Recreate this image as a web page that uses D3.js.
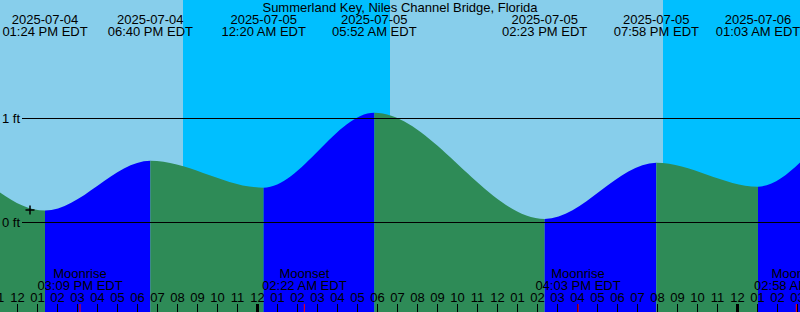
<!DOCTYPE html>
<html>
<head>
<meta charset="utf-8">
<script src="https://cdn.jsdelivr.net/npm/d3@7"></script>
<style>
  body { margin: 0; background: #fff; }
  svg { display: block; font-family: "Liberation Sans", Arial, sans-serif; }
</style>
</head>
<body>
<div id="chart"></div>
<script>
const canvas = { w: 800, h: 312 };

const title = "Summerland Key, Niles Channel Bridge, Florida";

// tide extremes (the first two and last two lie outside the view)
const tideTimes = ["2025-07-03 23:50", "2025-07-04 05:20", "2025-07-04 13:24", "2025-07-04 18:40",
  "2025-07-05 00:20", "2025-07-05 05:52", "2025-07-05 14:23", "2025-07-05 19:58",
  "2025-07-06 01:03", "2025-07-06 06:35", "2025-07-06 14:50"];
const tideLevels = [0.35, 1.03, 0.11, 0.59, 0.33, 1.05, 0.03, 0.57, 0.34, 1.06, 0.0];

const moonTimes = ["2025-07-04 15:09", "2025-07-05 02:22", "2025-07-05 16:03", "2025-07-06 02:58"];
const moonNames = ["Moonrise", "Moonset", "Moonrise", "Moonset"];

const nightStarts = ["2025-07-04 20:18", "2025-07-05 20:18"];
const nightEnds = ["2025-07-05 06:39", "2025-07-06 06:39"];

const levelTicks = [0, 1];
const markTime = "2025-07-04 12:39";
const markLevel = 0.115;

const viewStart = "2025-07-04 11:09";
const viewEnd = "2025-07-06 03:09";

const parse = d3.timeParse("%Y-%m-%d %H:%M");
const fmtDate = d3.timeFormat("%Y-%m-%d");
const fmtTime = d3.timeFormat("%I:%M %p EDT");

const colors = { day: "#87CEEB", night: "#00BFFF", flood: "#0000FF", ebb: "#2E8B57" };

const x = d3.scaleTime()
  .domain([parse(viewStart), parse(viewEnd)])
  .range([0, canvas.w]);

const y = d3.scaleLinear()
  .domain([0, 1])
  .range([222, 118]);

const svg = d3.select("#chart")
  .append("svg")
  .attr("width", canvas.w)
  .attr("height", canvas.h)
  .attr("viewBox", `0 0 ${canvas.w} ${canvas.h}`);

// sky
svg.append("rect")
  .attr("width", canvas.w)
  .attr("height", canvas.h)
  .attr("fill", colors.day);

svg.selectAll("rect.night")
  .data(nightStarts.map((s, i) => [parse(s), parse(nightEnds[i])]))
  .enter()
  .append("rect")
  .attr("class", "night")
  .attr("x", d => x(d[0]))
  .attr("width", d => Math.min(canvas.w, x(d[1])) - x(d[0]))
  .attr("y", 0)
  .attr("height", canvas.h)
  .attr("fill", colors.night);

// tide
const tide = tideTimes.map((t, i) => ({ t: parse(t), v: tideLevels[i] }));

const area = d3.area()
  .curve(d3.curveMonotoneX)
  .x(d => x(d.t))
  .y0(canvas.h)
  .y1(d => y(d.v));

const defs = svg.append("defs");

tide.slice(0, -1).forEach((d, i) => {
  const next = tide[i + 1];
  const id = `seg${i}`;
  defs.append("clipPath")
    .attr("id", id)
    .append("rect")
    .attr("x", x(d.t))
    .attr("width", x(next.t) - x(d.t))
    .attr("y", 0)
    .attr("height", canvas.h);
  svg.append("path")
    .datum(tide)
    .attr("clip-path", `url(#${id})`)
    .attr("fill", next.v > d.v ? colors.flood : colors.ebb)
    .attr("d", area);
});

// level lines
svg.selectAll("line.level")
  .data(levelTicks)
  .enter()
  .append("line")
  .attr("class", "level")
  .attr("x1", 22)
  .attr("x2", canvas.w)
  .attr("y1", d => y(d) + 0.5)
  .attr("y2", d => y(d) + 0.5)
  .attr("stroke", "#000")
  .attr("stroke-width", 1);

svg.selectAll("text.level")
  .data(levelTicks)
  .enter()
  .append("text")
  .attr("class", "level")
  .attr("x", 20)
  .attr("y", d => y(d) + 5)
  .attr("text-anchor", "end")
  .attr("font-size", 13)
  .text(d => `${d} ft`);

// "+" mark
const mx = x(parse(markTime)), my = y(markLevel);
svg.append("path")
  .attr("d", `M${mx - 4.5},${my}H${mx + 4.5}M${mx},${my - 4.5}V${my + 4.5}`)
  .attr("stroke", "#000")
  .attr("stroke-width", 1.5);

// title
svg.append("text")
  .attr("x", canvas.w / 2)
  .attr("y", 12)
  .attr("text-anchor", "middle")
  .attr("font-size", 13)
  .text(title);

// high / low labels
const visible = tide.filter(d => d.t >= x.domain()[0] && d.t <= x.domain()[1]);
const tideLabels = svg.selectAll("g.tidelabel")
  .data(visible)
  .enter()
  .append("g")
  .attr("class", "tidelabel")
  .attr("transform", d => `translate(${x(d.t)},0)`)
  .attr("text-anchor", "middle")
  .attr("font-size", 13);
tideLabels.append("text").attr("y", 24).text(d => fmtDate(d.t));
tideLabels.append("text").attr("y", 36).text(d => fmtTime(d.t));

// moon labels
const moon = moonTimes.map((t, i) => ({ t: parse(t), name: moonNames[i] }));
const moonLabels = svg.selectAll("g.moon")
  .data(moon)
  .enter()
  .append("g")
  .attr("class", "moon")
  .attr("transform", d => `translate(${x(d.t)},0)`)
  .attr("text-anchor", "middle")
  .attr("font-size", 13);
moonLabels.append("text").attr("y", 278).text(d => d.name);
moonLabels.append("text").attr("y", 290).text(d => fmtTime(d.t));

// hour axis
const hourTicks = d3.timeHour.range(d3.timeHour.offset(x.domain()[0], -1), d3.timeHour.offset(x.domain()[1], 1));
const axis = svg.append("g")
  .attr("transform", `translate(0,${canvas.h})`)
  .call(d3.axisTop(x)
    .tickValues(hourTicks)
    .tickFormat(d3.timeFormat("%I"))
    .tickSize(8)
    .tickPadding(2));
axis.select(".domain").remove();
axis.selectAll("text")
  .attr("font-size", 13)
  .attr("font-family", "Liberation Sans, Arial, sans-serif");
axis.selectAll(".tick line")
  .attr("stroke", "#000")
  .attr("stroke-width", d => d.getHours() === 0 ? 3 : 1);

svg.selectAll("line.moontick")
  .data(moon)
  .enter()
  .append("line")
  .attr("class", "moontick")
  .attr("x1", d => x(d.t))
  .attr("x2", d => x(d.t))
  .attr("y1", canvas.h - 8)
  .attr("y2", canvas.h)
  .attr("stroke", "#f00")
  .attr("stroke-width", 1);
</script>
</body>
</html>
